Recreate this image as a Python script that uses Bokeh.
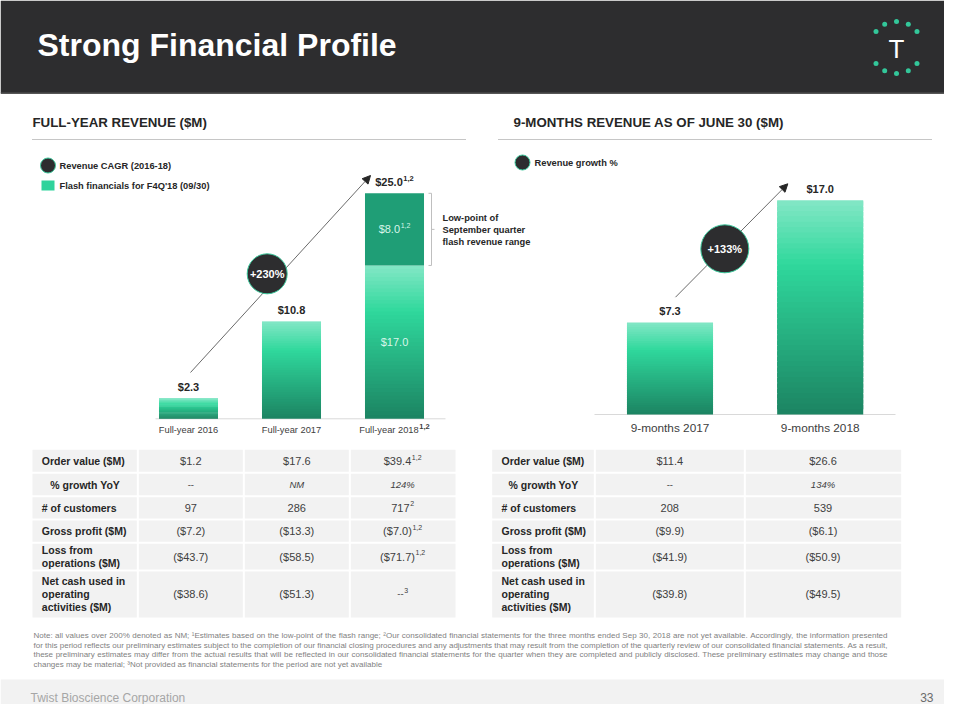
import math
from bokeh.plotting import figure
from bokeh.models import Range1d, Arrow, NormalHead
from bokeh.core.properties import value
from bokeh.embed import file_html
from bokeh.resources import INLINE

# ---------------- data ----------------
fy_categories = ["Full-year 2016", "Full-year 2017", "Full-year 2018"]
fy_category_notes = ["", "", "1,2"]
fy_reported = [2.3, 10.8, 17.0]
fy_flash = [0.0, 0.0, 8.0]
fy_total_notes = ["", "", "1,2"]
fy_cagr = "+230%"

nm_categories = ["9-months 2017", "9-months 2018"]
nm_revenue = [7.3, 17.0]
nm_growth = "+133%"

table_rows = ["Order value ($M)", "% growth YoY", "# of customers", "Gross profit ($M)",
              "Loss from\noperations ($M)", "Net cash used in\noperating\nactivities ($M)"]

fy_order_value = [1.2, 17.6, 39.4]
fy_growth_yoy = [None, "NM", 124]
fy_customers = [97, 286, 717]
fy_gross_profit = [-7.2, -13.3, -7.0]
fy_loss_ops = [-43.7, -58.5, -71.7]
fy_net_cash = [-38.6, -51.3, None]
fy_table_notes = [["", "", "1,2"], ["", "", ""], ["", "", "2"],
                  ["", "", "1,2"], ["", "", "1,2"], ["", "", "3"]]

nm_order_value = [11.4, 26.6]
nm_growth_yoy = [None, 134]
nm_customers = [208, 539]
nm_gross_profit = [-9.9, -6.1]
nm_loss_ops = [-41.9, -50.9]
nm_net_cash = [-39.8, -49.5]

note_lines = [
    "Note: all values over 200% denoted as NM; \u00b9Estimates based on the low-point of the flash range; \u00b2Our consolidated financial statements for the three months ended Sep 30, 2018 are not yet available. Accordingly, the information presented",
    "for this period reflects our preliminary estimates subject to the completion of our financial closing procedures and any adjustments that may result from the completion of the quarterly review of our consolidated financial statements. As a result,",
    "these preliminary estimates may differ from the actual results that will be reflected in our consolidated financial statements for the quarter when they are completed and publicly disclosed. These preliminary estimates may change and those",
    "changes may be material; \u00b3Not provided as financial statements for the period are not yet available",
]

# ---------------- font metrics (Arial-compatible) ----------------
REG = {" ": 278, "!": 278, "%": 889, "&": 667, "'": 191, "(": 333, ")": 333, ",": 278, "-": 333,
       ".": 278, "/": 278, ":": 278, ";": 278, "$": 556, "#": 556, "\u00b9": 333, "\u00b2": 333, "\u00b3": 333,
       "A": 667, "B": 667, "C": 722, "D": 722, "E": 667, "F": 611, "G": 778, "H": 722, "I": 278,
       "J": 500, "K": 667, "L": 556, "M": 833, "N": 722, "O": 778, "P": 667, "Q": 778, "R": 722,
       "S": 667, "T": 611, "U": 722, "V": 667, "W": 944, "X": 667, "Y": 667, "Z": 611,
       "a": 556, "b": 556, "c": 500, "d": 556, "e": 556, "f": 278, "g": 556, "h": 556, "i": 222,
       "j": 222, "k": 500, "l": 222, "m": 833, "n": 556, "o": 556, "p": 556, "q": 556, "r": 333,
       "s": 500, "t": 278, "u": 556, "v": 500, "w": 722, "x": 500, "y": 500, "z": 500}
BOLD = dict(REG)
BOLD.update({"!": 333, "&": 722, "'": 238, ":": 333, ";": 333, "A": 722, "B": 722, "J": 556, "K": 722,
             "L": 611, "b": 611, "c": 556, "d": 611, "f": 333, "g": 611, "h": 611, "i": 278, "j": 278,
             "k": 556, "l": 278, "m": 889, "n": 611, "o": 611, "p": 611, "q": 611, "r": 389,
             "s": 556, "t": 333, "u": 611, "v": 556, "w": 778, "x": 556, "y": 556})


def tw(s, size, bold=False):
    t = BOLD if bold else REG
    return sum(t.get(c, 556) for c in s) * size / 1000.0


FONT = "Liberation Sans"
DARK = "#262626"
GREEN_LINE = "#3cc89c"

# ---------------- layout geometry (slide pixels) ----------------
W, H = 944, 704
L_X0, L_SP, L_BASE, L_PPU = 188.0, 103.0, 418.3, 9.02
R_X0, R_SP, R_BASE, R_PPU = 669.5, 150.2, 414.0, 12.6
BAR_W = 0.573

p = figure(width=W, height=H, output_backend="svg", toolbar_location=None,
           x_range=Range1d(0, W), y_range=Range1d(H, 0),
           x_axis_type=None, y_axis_type=None, min_border=0,
           outline_line_color=None, background_fill_color="white", border_fill_color="white")
p.extra_x_ranges = {
    "lx": Range1d((0 - L_X0) / L_SP, (W - L_X0) / L_SP),
    "rx": Range1d((0 - R_X0) / R_SP, (W - R_X0) / R_SP),
}
p.extra_y_ranges = {
    "ly": Range1d((L_BASE - H) / L_PPU, (L_BASE - 0) / L_PPU),
    "ry": Range1d((R_BASE - H) / R_PPU, (R_BASE - 0) / R_PPU),
}

PX_X = {"default": 1.0, "lx": L_SP, "rx": R_SP}
PX_Y = {"default": -1.0, "ly": L_PPU, "ry": R_PPU}


def ux(px, xr):
    return px / PX_X[xr]


def uy(px_up, yr):
    return px_up / PX_Y[yr]


def txt(x, y, s, size, color, bold=False, italic=False, align="left", baseline="middle",
        xr="default", yr="default"):
    style = "bold italic" if (bold and italic) else "bold" if bold else "italic" if italic else "normal"
    p.text(x=[x], y=[y], text=[s], text_font=value(FONT), text_font_size=f"{size}px",
           text_font_style=style, text_color=color, text_align=align, text_baseline=baseline,
           x_range_name=xr, y_range_name=yr)


def txt_sup(x, y, main, sup, size, ssize, color, bold=False, sbold=False, raise_px=4,
            xr="default", yr="default", italic=False):
    if not sup:
        txt(x, y, main, size, color, bold, italic, "center", "middle", xr, yr)
        return
    wm = tw(main, size, bold)
    ws = tw(sup, ssize, sbold)
    gap = 0.6
    total = wm + gap + ws
    xm = x + ux(-total / 2.0, xr)
    txt(xm, y, main, size, color, bold, italic, "left", "middle", xr, yr)
    txt(xm + ux(wm + gap, xr), y + uy(raise_px, yr), sup, ssize, color, sbold, False, "left",
        "middle", xr, yr)


STOPS = [(0.0, (0x84, 0xe7, 0xc6)), (0.3, (0x2f, 0xd8, 0x9c)), (1.0, (0x1c, 0x83, 0x62))]


def grad(t):
    for (t0, c0), (t1, c1) in zip(STOPS, STOPS[1:]):
        if t <= t1:
            f = (t - t0) / (t1 - t0)
            return "#%02x%02x%02x" % tuple(int(round(a + (b - a) * f)) for a, b in zip(c0, c1))
    return "#%02x%02x%02x" % STOPS[-1][1]


N_SLICES = 40


def gradient_bars(xs, vals, xr, yr):
    # each bar is drawn as stacked, slightly overlapping slices to fake a vertical gradient
    X, B, T, C = [], [], [], []
    for x, v in zip(xs, vals):
        for k in range(N_SLICES):
            X.append(x)
            B.append(v * k / N_SLICES)
            T.append(min(v, v * (k + 1.8) / N_SLICES))
            C.append(grad(1.0 - (k + 0.5) / N_SLICES))
    p.vbar(x=X, bottom=B, top=T, width=BAR_W, fill_color=C, line_color=None,
           x_range_name=xr, y_range_name=yr)


def money(v):
    if v is None:
        return "--"
    return "($%.1f)" % (-v) if v < 0 else "$%.1f" % v


def pct(v):
    if v is None:
        return "--"
    return v if isinstance(v, str) else "%d%%" % v


# ---------------- header ----------------
p.quad(left=[0], right=[W], top=[0], bottom=[92.5], fill_color="#2d2d2f", line_color=None)
p.segment(x0=[0], x1=[W], y0=[92.8], y1=[92.8], line_color="#565656", line_width=1.5)
txt(37, 44.5, "Strong Financial Profile", 32, "white", bold=True)
logo_angles = [0, 27, 52, -27, -52, 180, 153, 128, -153, -128]
p.scatter(x=[896 + 26 * math.sin(math.radians(a)) for a in logo_angles],
          y=[47 - 26 * math.cos(math.radians(a)) for a in logo_angles],
          size=5, marker="circle", fill_color="#33c79a", line_color=None)
txt(896, 48.5, "T", 26, "white", align="center")

# ---------------- section headings ----------------
txt(32, 121.5, "FULL-YEAR REVENUE ($M)", 13.3, DARK, bold=True)
txt(513, 121.5, "9-MONTHS REVENUE AS OF JUNE 30 ($M)", 13.3, DARK, bold=True)
p.segment(x0=[32, 498], x1=[465, 932], y0=[139, 139], y1=[139, 139], line_color="#8c8c8c",
          line_width=1, line_dash="1 1")

# ---------------- legends ----------------
p.scatter(x=[47.5, 522], y=[165, 162], size=15, marker="circle", fill_color="#2d2d2f",
          line_color=GREEN_LINE, line_width=1)
p.quad(left=[41], right=[54], top=[180], bottom=[190], fill_color="#2fd39c", line_color=None)
txt(59, 165, "Revenue CAGR (2016-18)", 9.3, DARK, bold=True)
txt(59, 185, "Flash financials for F4Q'18 (09/30)", 9.3, DARK, bold=True)
txt(534, 162, "Revenue growth %", 9.3, DARK, bold=True)

# ---------------- left chart ----------------
fy_idx = list(range(len(fy_categories)))
fy_total = [a + b for a, b in zip(fy_reported, fy_flash)]
p.segment(x0=[155], x1=[445], y0=[0], y1=[0], line_color="#d9d9d9", line_width=1,
          y_range_name="ly")
gradient_bars(fy_idx, fy_reported, "lx", "ly")
fl_idx = [i for i in fy_idx if fy_flash[i] > 0]
p.vbar(x=fl_idx, bottom=[fy_reported[i] for i in fl_idx], top=[fy_total[i] for i in fl_idx],
       width=BAR_W, fill_color="#1f9e76", line_color=None,
       x_range_name="lx", y_range_name="ly")
for i in fy_idx:
    txt_sup(i, fy_total[i] + uy(11.5, "ly"), "$%.1f" % fy_total[i], fy_total_notes[i], 11, 7.5,
            DARK, bold=True, sbold=True, raise_px=3.5, xr="lx", yr="ly")
    txt_sup(i, uy(-11, "ly"), fy_categories[i], fy_category_notes[i], 9.3, 7.5, "#404040",
            bold=False, sbold=True, raise_px=3, xr="lx", yr="ly")
for i in fl_idx:
    txt(i, fy_reported[i] / 2.0, "$%.1f" % fy_reported[i], 11, "#d8f6ea", align="center",
        xr="lx", yr="ly")
    txt_sup(i, fy_reported[i] + fy_flash[i] / 2.0, "$%.1f" % fy_flash[i], "1,2", 11, 7,
            "#d8f6ea", raise_px=3.5, xr="lx", yr="ly")
    # bracket for the flash range
    p.segment(x0=[431, 428, 428, 431], x1=[431, 431, 431, 434],
              y0=[fy_reported[i], fy_reported[i], fy_total[i], fy_reported[i] + fy_flash[i] / 2.0],
              y1=[fy_total[i], fy_reported[i], fy_total[i], fy_reported[i] + fy_flash[i] / 2.0],
              line_color="#bfbfbf", line_width=1, y_range_name="ly")
for j, line in enumerate(["Low-point of", "September quarter", "flash revenue range"]):
    txt(442, 217.5 + 11.8 * j, line, 9.3, DARK, bold=True)

p.add_layout(Arrow(end=NormalHead(size=8, fill_color="#262626", line_color="#262626"),
                   x_start=190, y_start=372, x_end=370, y_end=175,
                   line_color="#6a6a6a", line_width=1, level="underlay"))
p.scatter(x=[266.7], y=[273.3], size=40, marker="circle", fill_color="#2d2d2f",
          line_color=GREEN_LINE, line_width=1)
txt(266.7, 273.3, fy_cagr, 11, "white", bold=True, align="center")

# ---------------- right chart ----------------
nm_idx = list(range(len(nm_categories)))
p.segment(x0=[594], x1=[895], y0=[0], y1=[0], line_color="#d9d9d9", line_width=1,
          y_range_name="ry")
gradient_bars(nm_idx, nm_revenue, "rx", "ry")
for i in nm_idx:
    txt(i, nm_revenue[i] + uy(11.5, "ry"), "$%.1f" % nm_revenue[i], 11, DARK, bold=True,
        align="center", xr="rx", yr="ry")
    txt(i, uy(-13.6, "ry"), nm_categories[i], 11.8, "#404040", align="center", xr="rx", yr="ry")
p.add_layout(Arrow(end=NormalHead(size=8, fill_color="#262626", line_color="#262626"),
                   x_start=675, y_start=296.7, x_end=787.3, y_end=183.3,
                   line_color="#6a6a6a", line_width=1, level="underlay"))
p.scatter(x=[724.3], y=[248.3], size=48, marker="circle", fill_color="#2d2d2f",
          line_color=GREEN_LINE, line_width=1)
txt(724.3, 248.3, nm_growth, 11, "white", bold=True, align="center")

# ---------------- tables ----------------
ROW_EDGES = [449.3, 472.3, 495.7, 519.0, 542.3, 570.0, 617.0]


def draw_table(col_edges, columns, notes):
    L, R, T, B = [], [], [], []
    nc = len(col_edges) - 1
    nr = len(ROW_EDGES) - 1
    for r in range(nr):
        for c in range(nc):
            L.append(col_edges[c] + (1 if c > 0 else 0))
            R.append(col_edges[c + 1] - (1 if c < nc - 1 else 0))
            T.append(ROW_EDGES[r] + (1 if r > 0 else 0))
            B.append(ROW_EDGES[r + 1] - (1 if r < nr - 1 else 0))
    p.quad(left=L, right=R, top=T, bottom=B, fill_color="#f2f2f2", line_color=None)
    for r, label in enumerate(table_rows):
        cy = (ROW_EDGES[r] + ROW_EDGES[r + 1]) / 2.0
        lines = label.split("\n")
        for j, line in enumerate(lines):
            y = cy + (j - (len(lines) - 1) / 2.0) * 12.6
            if r == 1:
                txt((col_edges[0] + col_edges[1]) / 2.0, y, line, 10.5, DARK, bold=True, align="center")
            else:
                txt(col_edges[0] + 9.3, y, line, 10.5, DARK, bold=True)
        for c, s in enumerate(columns[r]):
            cx = (col_edges[c + 1] + col_edges[c + 2]) / 2.0
            note = notes[r][c] if notes else ""
            if s == "--":
                txt_sup(cx, cy, s, note, 9.5, 7, "#404040", raise_px=4)
            elif r == 1:
                txt_sup(cx, cy, s, note, 9.5, 7, "#404040", raise_px=4, italic=True)
            else:
                txt_sup(cx, cy, s, note, 11, 7, "#404040", raise_px=4)


fy_table = [[money(v) for v in fy_order_value], [pct(v) for v in fy_growth_yoy],
            [str(v) for v in fy_customers], [money(v) for v in fy_gross_profit],
            [money(v) for v in fy_loss_ops], [money(v) for v in fy_net_cash]]
nm_table = [[money(v) for v in nm_order_value], [pct(v) for v in nm_growth_yoy],
            [str(v) for v in nm_customers], [money(v) for v in nm_gross_profit],
            [money(v) for v in nm_loss_ops], [money(v) for v in nm_net_cash]]
draw_table([32, 137.3, 243.3, 349.3, 455], fy_table, fy_table_notes)
draw_table([491.7, 594.3, 744.3, 900.7], nm_table, None)

# ---------------- notes (justified) ----------------
NOTE_X0, NOTE_X1, NOTE_SIZE = 33, 887, 8
for li, line in enumerate(note_lines):
    words = line.split(" ")
    widths = [tw(w, NOTE_SIZE) for w in words]
    if li < len(note_lines) - 1:
        gap = (NOTE_X1 - NOTE_X0 - sum(widths)) / (len(words) - 1)
    else:
        gap = tw(" ", NOTE_SIZE)
    xs, x = [], NOTE_X0
    for w in widths:
        xs.append(x)
        x += w + gap
    p.text(x=xs, y=[635 + 9.7 * li] * len(words), text=words, text_font=value(FONT),
           text_font_size=f"{NOTE_SIZE}px", text_color="#7f7f7f", text_align="left",
           text_baseline="middle")

# ---------------- footer ----------------
p.quad(left=[0], right=[W], top=[679], bottom=[H], fill_color="#f2f2f2", line_color=None)
txt(30, 697, "Twist Bioscience Corporation", 12, "#a6a6a6")
txt(933, 697, "33", 12, "#6b6b6b", align="right")

open("out.html", "w").write(file_html(p, INLINE))
